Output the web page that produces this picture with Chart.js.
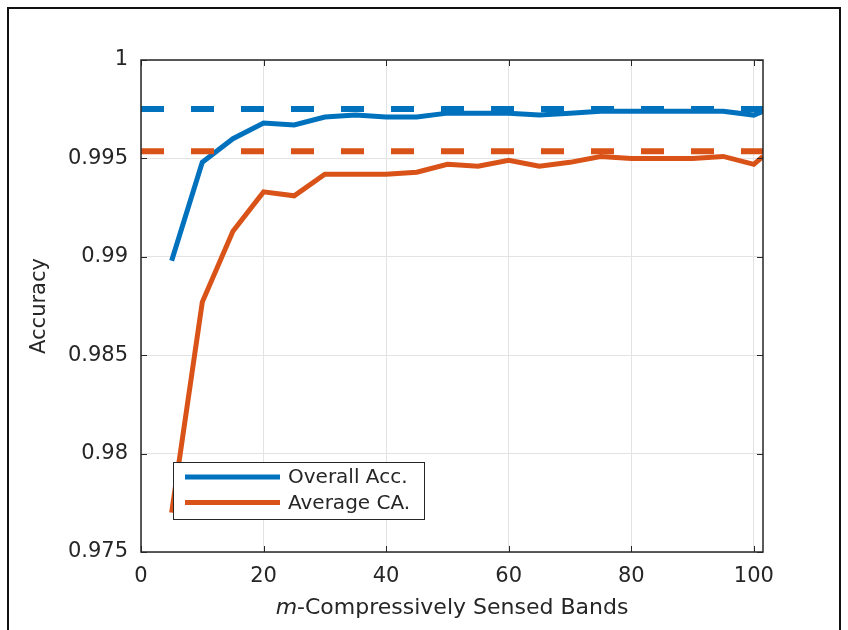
<!DOCTYPE html>
<html>
<head>
<meta charset="utf-8">
<title>Accuracy vs m-Compressively Sensed Bands</title>
<script src="https://cdn.jsdelivr.net/npm/chart.js@4"></script>
<style>
  html, body { margin: 0; padding: 0; background: #fff; }
  #wrap { position: relative; width: 848px; height: 630px; overflow: hidden; }
  #frame { position: absolute; left: 7px; top: 7px; width: 834px; height: 700px; border: 2px solid #111; box-sizing: border-box; }
  canvas { position: absolute; left: 0; top: 0; }
</style>
</head>
<body>
<div id="wrap">
  <div id="frame"></div>
  <canvas id="accChart" width="848" height="630"></canvas>
</div>
<script>
// number of compressively sensed bands
const bands = [5, 10, 15, 20, 25, 30, 35, 40, 45, 50, 55, 60, 65, 70, 75, 80, 85, 90, 95, 100, 101.5];
const overallAcc = [0.9898, 0.9948, 0.9960, 0.9968, 0.9967, 0.9971, 0.9972, 0.9971, 0.9971, 0.9973, 0.9973,
                    0.9973, 0.9972, 0.9973, 0.9974, 0.9974, 0.9974, 0.9974, 0.9974, 0.9972, 0.9974];
const averageCA = [0.9770, 0.9877, 0.9913, 0.9933, 0.9931, 0.9942, 0.9942, 0.9942, 0.9943, 0.9947, 0.9946,
                   0.9949, 0.9946, 0.9948, 0.9951, 0.9950, 0.9950, 0.9950, 0.9951, 0.9947, 0.9951];
// full-band reference levels (dashed)
const overallRef = 0.99751;
const averageRef = 0.99536;

const xMin = 0, xMax = 101.5, xStep = 20;
const yMin = 0.975, yMax = 1, yStep = 0.005;

const BLUE = '#0072BD';
const ORANGE = '#D95319';
const AXIS = '#262626';
const FONT = "'DejaVu Sans', sans-serif";

const toPoints = (xs, ys) => xs.map((x, i) => ({ x: x, y: ys[i] }));

/* box, inside ticks, legend and x title like a matlab figure */
const matlabAxes = {
    id: 'matlabAxes',
    afterDatasetsDraw(chart) {
        const { ctx, chartArea: a, scales } = chart;
        ctx.save();
        ctx.strokeStyle = AXIS;
        ctx.lineWidth = 1;
        ctx.beginPath();
        scales.x.ticks.forEach(t => {
            const px = Math.round(scales.x.getPixelForValue(t.value)) + 0.5;
            ctx.moveTo(px, a.bottom); ctx.lineTo(px, a.bottom - 6);
            ctx.moveTo(px, a.top); ctx.lineTo(px, a.top + 6);
        });
        scales.y.ticks.forEach(t => {
            const py = Math.round(scales.y.getPixelForValue(t.value)) + 0.5;
            ctx.moveTo(a.left, py); ctx.lineTo(a.left + 6, py);
            ctx.moveTo(a.right, py); ctx.lineTo(a.right - 6, py);
        });
        ctx.stroke();
        ctx.lineWidth = 1.5;
        ctx.strokeRect(a.left, a.top, a.right - a.left, a.bottom - a.top);

        // legend
        const items = chart.data.datasets.filter(d => d.inLegend);
        const lx = a.left + 32, ly = a.bottom - 90, lw = 251, lh = 57;
        ctx.fillStyle = '#fff';
        ctx.fillRect(lx, ly, lw, lh);
        ctx.lineWidth = 1;
        ctx.strokeStyle = AXIS;
        ctx.strokeRect(lx + 0.5, ly + 0.5, lw, lh);
        ctx.font = '20px ' + FONT;
        ctx.textBaseline = 'middle';
        ctx.textAlign = 'left';
        items.forEach((d, i) => {
            const y = ly + 15 + i * 25.5;
            ctx.strokeStyle = d.borderColor;
            ctx.lineWidth = 5;
            ctx.beginPath();
            ctx.moveTo(lx + 12, y); ctx.lineTo(lx + 107, y);
            ctx.stroke();
            ctx.fillStyle = AXIS;
            ctx.fillText(d.label, lx + 115, y + 1);
        });

        // x title with italic m
        const first = 'm', rest = '-Compressively Sensed Bands';
        ctx.font = 'italic 22px ' + FONT;
        const w1 = ctx.measureText(first).width;
        ctx.font = '22px ' + FONT;
        const w2 = ctx.measureText(rest).width;
        let tx = (a.left + a.right) / 2 - (w1 + w2) / 2;
        const ty = 608;
        ctx.fillStyle = AXIS;
        ctx.font = 'italic 22px ' + FONT;
        ctx.fillText(first, tx, ty);
        ctx.font = '22px ' + FONT;
        ctx.fillText(rest, tx + w1, ty);
        ctx.restore();
    }
};

const ctx = document.getElementById('accChart').getContext('2d');
new Chart(ctx, {
    type: 'line',
    data: {
        datasets: [
            {
                label: 'Overall Acc.',
                inLegend: true,
                data: toPoints(bands, overallAcc),
                borderColor: BLUE,
                borderWidth: 5,
                pointRadius: 0,
                tension: 0,
                order: 3
            },
            {
                label: 'Average CA.',
                inLegend: true,
                data: toPoints(bands, averageCA),
                borderColor: ORANGE,
                borderWidth: 5,
                pointRadius: 0,
                tension: 0,
                order: 4
            },
            {
                label: 'Overall Acc. (all bands)',
                data: toPoints([xMin, xMax], [overallRef, overallRef]),
                borderColor: BLUE,
                borderWidth: 6,
                borderDash: [23, 27],
                pointRadius: 0,
                order: 1
            },
            {
                label: 'Average CA. (all bands)',
                data: toPoints([xMin, xMax], [averageRef, averageRef]),
                borderColor: ORANGE,
                borderWidth: 6,
                borderDash: [23, 27],
                pointRadius: 0,
                order: 2
            }
        ]
    },
    options: {
        responsive: false,
        animation: false,
        devicePixelRatio: 1,
        layout: { padding: { top: 60, right: 85, left: 0, bottom: 0 } },
        plugins: { legend: { display: false }, tooltip: { enabled: false } },
        scales: {
            x: {
                type: 'linear',
                min: xMin,
                max: xMax,
                border: { display: false },
                grid: { color: '#e3e3e3', drawTicks: false },
                ticks: {
                    stepSize: xStep,
                    includeBounds: false,
                    padding: 12,
                    color: AXIS,
                    font: { family: FONT, size: 21 },
                    maxRotation: 0
                },
                afterFit: s => { s.height = 78; }
            },
            y: {
                min: yMin,
                max: yMax,
                border: { display: false },
                grid: { color: '#e3e3e3', drawTicks: false },
                ticks: {
                    stepSize: yStep,
                    padding: 13,
                    color: AXIS,
                    font: { family: FONT, size: 21 },
                    callback: v => String(Number(v.toFixed(3)))
                },
                title: {
                    display: true,
                    text: 'Accuracy',
                    color: AXIS,
                    font: { family: FONT, size: 21 },
                    padding: { top: 27, bottom: 0 }
                },
                afterFit: s => { s.width = 141; }
            }
        }
    },
    plugins: [matlabAxes]
});
</script>
</body>
</html>
